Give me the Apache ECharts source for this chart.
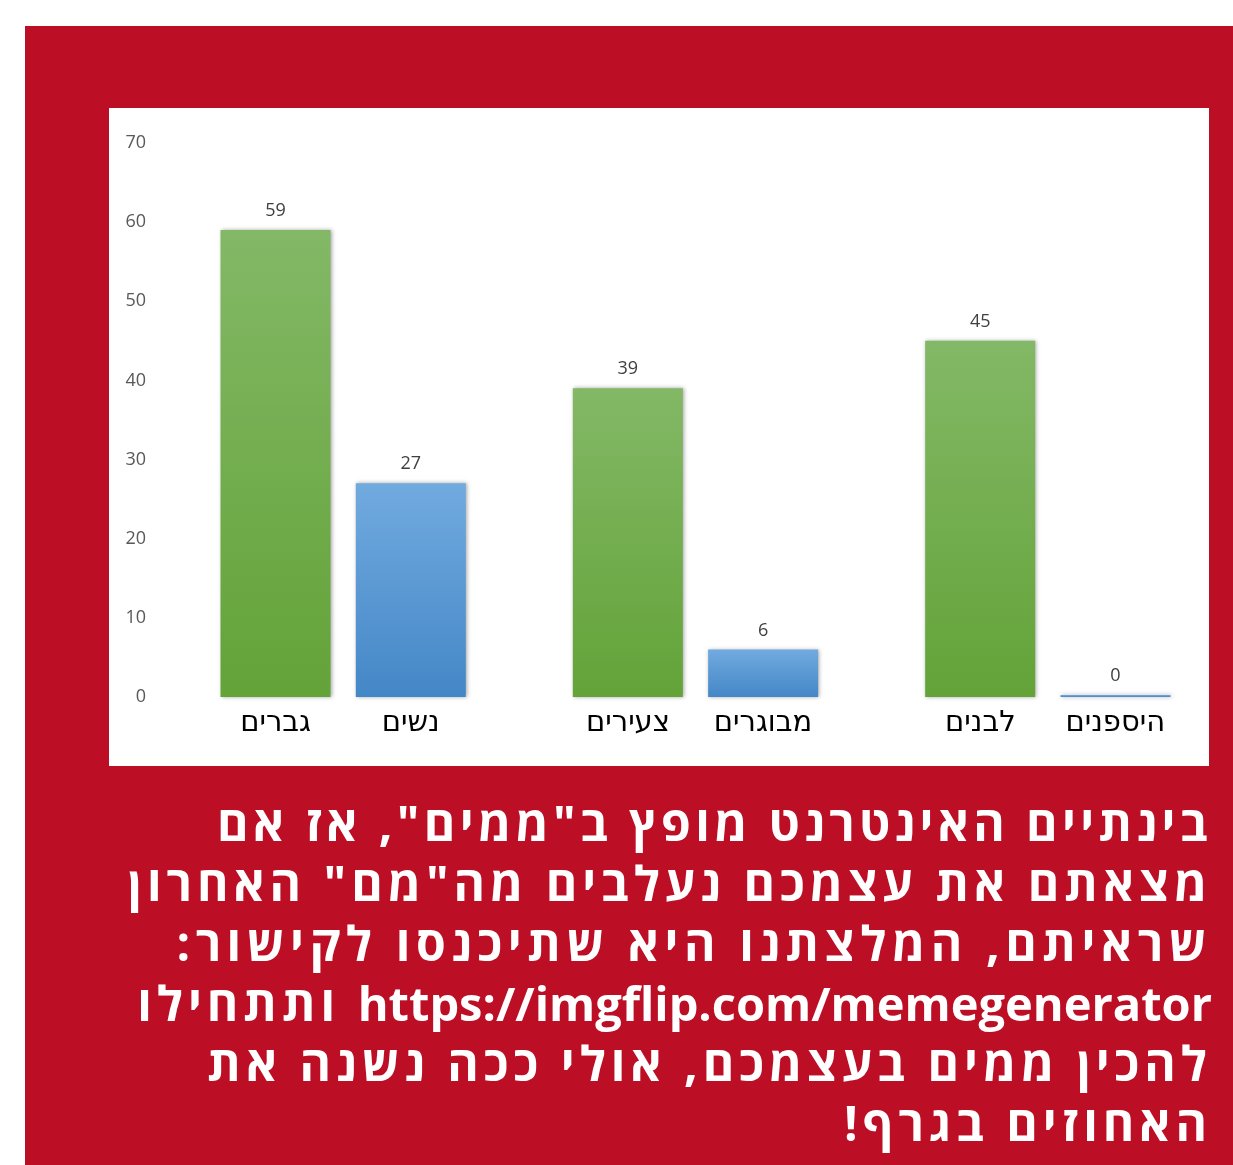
<!DOCTYPE html>
<html>
<head>
<meta charset="utf-8">
<script src="https://cdn.jsdelivr.net/npm/echarts@6/dist/echarts.min.js"></script>
<style>
  html, body { margin: 0; padding: 0; background: #ffffff; }
  #page { position: relative; width: 1233px; height: 1165px; overflow: hidden; }
  #redPanel { position: absolute; left: 25px; top: 26px; width: 1208px; height: 1139px; background: #BC0E24; }
  #whiteBox { position: absolute; left: 109px; top: 108px; width: 1100px; height: 658px; background: #ffffff; }
  #chart { position: absolute; left: 0; top: 0; width: 1233px; height: 1165px; }
  #caption {
    position: absolute; right: 21px; top: 793px; width: 1150px;
    direction: rtl; text-align: right; color: #ffffff;
    font-family: "Open Sans", "DejaVu Sans", sans-serif; font-weight: 700;
    font-size: 48px; line-height: 60px; white-space: nowrap; letter-spacing: 5px;
  }
  #caption .url { letter-spacing: 0; font-size: 47px; }
  #caption .l1 { letter-spacing: 4.4px; }
  #caption .l3 { letter-spacing: 5.6px; }
</style>
</head>
<body>
<div id="page">
  <div id="redPanel"></div>
  <div id="whiteBox"></div>
  <div id="chart"></div>
  <div id="caption"><span class="l1">בינתיים האינטרנט מופץ ב"ממים", אז אם</span><br>מצאתם את עצמכם נעלבים מה"מם" האחרון<br><span class="l3">שראיתם, המלצתנו היא שתיכנסו לקישור:</span><br><span class="url" dir="ltr">https://imgflip.com/memegenerator</span> ותתחילו<br>להכין ממים בעצמכם, אולי ככה נשנה את<br>האחוזים בגרף!</div>
</div>
<script>
// ---- data ----
const groups = ['0', '1', '2'];
const leftLabels = ['גברים', 'צעירים', 'לבנים'];
const rightLabels = ['נשים', 'מבוגרים', 'היספנים'];
const leftValues = [59, 39, 45];
const rightValues = [27, 6, 0];
const yTicks = { min: 0, max: 70, interval: 10 };

const chart = echarts.init(document.getElementById('chart'), null, { renderer: 'canvas' });

const green = new echarts.graphic.LinearGradient(0, 0, 0, 1, [
  { offset: 0, color: '#83B866' },
  { offset: 1, color: '#63A338' }
]);
const blue = new echarts.graphic.LinearGradient(0, 0, 0, 1, [
  { offset: 0, color: '#71AADF' },
  { offset: 1, color: '#4487C7' }
]);

const valueLabel = {
  show: true, position: 'top', distance: 10,
  color: '#404040', fontSize: 18, fontFamily: '"Open Sans", "DejaVu Sans", sans-serif'
};
const shadow = { shadowBlur: 4, shadowColor: 'rgba(0,0,0,0.35)', shadowOffsetX: 1, shadowOffsetY: 0 };
const catFont = { width: 135, align: 'center', fontSize: 29, color: '#000000', fontFamily: '"DejaVu Sans", sans-serif' };

chart.setOption({
  backgroundColor: 'transparent',
  animation: false,
  grid: { left: 167, right: 9, top: 143, bottom: 468, containLabel: false },
  xAxis: {
    type: 'category',
    data: groups,
    axisLine: { show: false },
    axisTick: { show: false },
    axisLabel: {
      margin: 12,
      interval: 0,
      formatter: function (v, i) {
        return '{a|' + leftLabels[i] + '}{b|' + rightLabels[i] + '}';
      },
      rich: { a: catFont, b: catFont }
    }
  },
  yAxis: {
    type: 'value',
    min: yTicks.min, max: yTicks.max, interval: yTicks.interval,
    axisLine: { show: false },
    axisTick: { show: false },
    splitLine: { show: false },
    axisLabel: { margin: 21, color: '#595959', fontSize: 18, fontFamily: '"Open Sans", "DejaVu Sans", sans-serif' }
  },
  series: [
    {
      type: 'bar', data: leftValues, barWidth: 110, barGap: '23%', barMinHeight: 2,
      itemStyle: Object.assign({ color: green }, shadow),
      label: valueLabel
    },
    {
      type: 'bar', data: rightValues, barWidth: 110, barMinHeight: 2,
      itemStyle: Object.assign({ color: blue }, shadow),
      label: valueLabel
    }
  ]
});
</script>
</body>
</html>
